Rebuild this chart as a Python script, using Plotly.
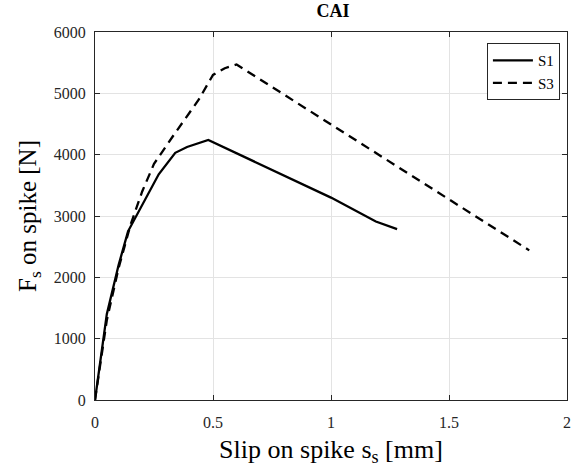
import plotly.graph_objects as go

s1_x = [0, 0.05, 0.10, 0.14, 0.27, 0.34, 0.39, 0.48, 1.00, 1.19, 1.28]
s1_y = [0, 1400, 2200, 2750, 3680, 4030, 4125, 4240, 3300, 2910, 2785]
s3_x = [0, 0.05, 0.10, 0.15, 0.20, 0.25, 0.33, 0.44, 0.50, 0.55, 0.60, 1.84]
s3_y = [0, 1300, 2150, 2850, 3400, 3850, 4300, 4900, 5300, 5410, 5470, 2440]

font = "Times New Roman"
fig = go.Figure()
fig.add_trace(go.Scatter(x=s1_x, y=s1_y, mode="lines", name="S1",
                         line=dict(color="black", width=2.3)))
fig.add_trace(go.Scatter(x=s3_x, y=s3_y, mode="lines", name="S3",
                         line=dict(color="black", width=2.3, dash="9px,6px")))

axis_common = dict(showline=True, linecolor="#262626", linewidth=1, mirror="ticks",
                   ticks="inside", ticklen=5, tickcolor="#262626",
                   showgrid=True, gridcolor="#e3e3e3", gridwidth=1, zeroline=False,
                   tickfont=dict(family=font, size=16, color="#262626"))
fig.update_layout(
    width=577, height=467,
    margin=dict(l=95, r=6, t=32, b=67),
    paper_bgcolor="white", plot_bgcolor="white",
    font=dict(family=font),
    title=dict(text="<b>CAI</b>", x=0.577, xanchor="center", y=0.99, yanchor="top",
               font=dict(family=font, size=18, color="black")),
    xaxis=dict(range=[0, 2], tickvals=[0, 0.5, 1, 1.5, 2], ticktext=["0", "0.5", "1", "1.5", "2"],
               ticklabelstandoff=8,
               title=dict(text="Slip on spike s<sub>s</sub> [mm]", standoff=9,
                          font=dict(family=font, size=26, color="black")), **axis_common),
    yaxis=dict(range=[0, 6000], tickvals=[0, 1000, 2000, 3000, 4000, 5000, 6000],
               ticklabelstandoff=5,
               title=dict(text="F<sub>s</sub> on spike [N]", standoff=10,
                          font=dict(family=font, size=25, color="black")), **axis_common),
    legend=dict(x=0.985, y=0.97, xanchor="right", yanchor="top",
                bgcolor="white", bordercolor="#262626", borderwidth=1,
                font=dict(family=font, size=15, color="black"),
                tracegroupgap=0, itemwidth=40),
    showlegend=True,
)
fig.write_html("out.html")
